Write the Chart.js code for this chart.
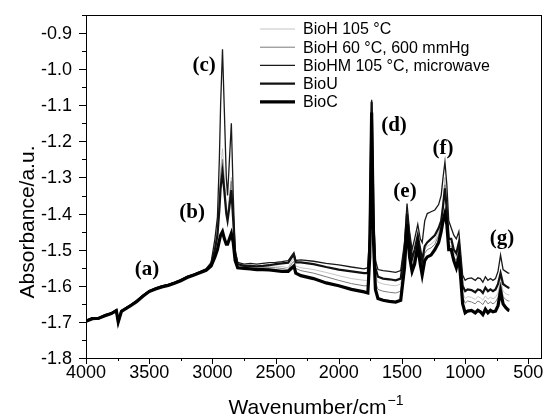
<!DOCTYPE html>
<html>
<head>
<meta charset="utf-8">
<title>FTIR spectra</title>
<script src="https://cdn.jsdelivr.net/npm/chart.js@4.4.0/dist/chart.umd.min.js"></script>
<style>
  html, body { margin: 0; padding: 0; background: #fff; }
  #wrap { width: 546px; height: 418px; }
</style>
</head>
<body>
<div id="wrap"><canvas id="ftirChart" width="546" height="418"></canvas></div>
<script>
// Spectres FTIR

const wavenumbers = [
  4000, 3950, 3900, 3850, 3800, 3760, 3745, 3720, 3650, 3600, 3550, 3500, 3450, 3400, 3350, 3300, 3250, 3200, 3150, 3100, 3050,
  3010, 2980, 2960, 2945, 2935, 2920, 2905, 2890, 2880, 2865, 2850, 2835, 2820,
  2800, 2750, 2700, 2650, 2600, 2550, 2500, 2450, 2400, 2370, 2355, 2340,
  2300, 2200, 2100, 2000, 1900, 1800,
  1770, 1755, 1740, 1725, 1710, 1690,
  1650, 1600, 1550, 1510, 1480,
  1460, 1440, 1420, 1400, 1375, 1355, 1340, 1320, 1300,
  1270, 1240, 1210, 1190, 1175, 1160, 1145, 1130,
  1110, 1090, 1070, 1050, 1035, 1020,
  1000, 980, 950, 920, 900, 880, 860, 840, 820,
  800, 780, 760, 740, 720, 700, 680, 660, 650
];

const bioH105 = [
  -1.699, -1.692, -1.690, -1.684, -1.676, -1.670, -1.699, -1.672, -1.657, -1.645, -1.630, -1.617, -1.610, -1.604, -1.600, -1.594, -1.587, -1.578, -1.572, -1.565, -1.558,
  -1.54, -1.49, -1.44, -1.35, -1.28, -1.22, -1.30, -1.38, -1.40, -1.35, -1.30, -1.40, -1.51,
  -1.545, -1.548, -1.547, -1.548, -1.547, -1.546, -1.545, -1.547, -1.550, -1.530, -1.525, -1.545,
  -1.550, -1.555, -1.563, -1.572, -1.580, -1.585,
  -1.585, -1.48, -1.10, -1.44, -1.57, -1.590,
  -1.595, -1.598, -1.600, -1.595, -1.51,
  -1.39, -1.48, -1.535, -1.51, -1.46, -1.51, -1.545, -1.50, -1.49,
  -1.485, -1.475, -1.45, -1.42, -1.36, -1.30, -1.38, -1.48,
  -1.48, -1.51, -1.52, -1.49, -1.55, -1.62,
  -1.635, -1.630, -1.632, -1.638, -1.630, -1.633, -1.640, -1.628, -1.637,
  -1.632, -1.636, -1.632, -1.620, -1.580, -1.615, -1.622, -1.625, -1.625
];

const bioH60 = [
  -1.696, -1.691, -1.692, -1.683, -1.678, -1.669, -1.702, -1.671, -1.656, -1.644, -1.629, -1.616, -1.609, -1.603, -1.599, -1.593, -1.586, -1.577, -1.571, -1.564, -1.557,
  -1.54, -1.495, -1.45, -1.37, -1.30, -1.25, -1.32, -1.39, -1.41, -1.36, -1.31, -1.41, -1.515,
  -1.548, -1.550, -1.550, -1.551, -1.550, -1.550, -1.550, -1.552, -1.555, -1.538, -1.532, -1.552,
  -1.558, -1.565, -1.575, -1.585, -1.594, -1.600,
  -1.600, -1.50, -1.11, -1.46, -1.59, -1.610,
  -1.615, -1.618, -1.620, -1.615, -1.53,
  -1.41, -1.50, -1.545, -1.52, -1.475, -1.52, -1.555, -1.51, -1.50,
  -1.495, -1.485, -1.46, -1.43, -1.38, -1.32, -1.40, -1.49,
  -1.49, -1.52, -1.53, -1.50, -1.56, -1.63,
  -1.648, -1.642, -1.645, -1.650, -1.642, -1.646, -1.652, -1.640, -1.650,
  -1.645, -1.650, -1.645, -1.632, -1.590, -1.630, -1.638, -1.642, -1.642
];

const bioHM105 = [
  -1.695, -1.688, -1.689, -1.680, -1.675, -1.666, -1.698, -1.668, -1.653, -1.641, -1.626, -1.613, -1.606, -1.600, -1.596, -1.590, -1.583, -1.574, -1.568, -1.561, -1.553,
  -1.535, -1.47, -1.41, -1.25, -1.10, -0.945, -1.12, -1.30, -1.35, -1.25, -1.15, -1.35, -1.50,
  -1.535, -1.540, -1.538, -1.540, -1.538, -1.536, -1.535, -1.533, -1.530, -1.515, -1.508, -1.530,
  -1.528, -1.532, -1.538, -1.542, -1.548, -1.553,
  -1.550, -1.45, -1.085, -1.40, -1.53, -1.555,
  -1.558, -1.560, -1.563, -1.558, -1.48,
  -1.372, -1.45, -1.50, -1.47, -1.43, -1.47, -1.48, -1.42, -1.40,
  -1.395, -1.39, -1.375, -1.35, -1.30, -1.257, -1.32, -1.42,
  -1.44, -1.46, -1.47, -1.45, -1.51, -1.57,
  -1.585, -1.580, -1.578, -1.585, -1.578, -1.580, -1.590, -1.575, -1.585,
  -1.580, -1.585, -1.580, -1.560, -1.515, -1.555, -1.560, -1.565, -1.565
];

const bioU = [
  -1.697, -1.690, -1.691, -1.682, -1.677, -1.668, -1.701, -1.670, -1.655, -1.643, -1.628, -1.615, -1.608, -1.602, -1.598, -1.592, -1.585, -1.576, -1.570, -1.563, -1.556,
  -1.54, -1.50, -1.46, -1.39, -1.33, -1.285, -1.34, -1.40, -1.42, -1.38, -1.335, -1.42, -1.51,
  -1.540, -1.545, -1.545, -1.546, -1.545, -1.543, -1.540, -1.538, -1.536, -1.520, -1.515, -1.535,
  -1.535, -1.540, -1.548, -1.555, -1.560, -1.565,
  -1.565, -1.47, -1.09, -1.42, -1.55, -1.575,
  -1.580, -1.582, -1.585, -1.580, -1.50,
  -1.40, -1.47, -1.525, -1.50, -1.46, -1.50, -1.53, -1.49, -1.48,
  -1.47, -1.46, -1.44, -1.42, -1.38, -1.33, -1.39, -1.47,
  -1.47, -1.50, -1.51, -1.48, -1.54, -1.60,
  -1.615, -1.610, -1.612, -1.618, -1.610, -1.612, -1.620, -1.605, -1.615,
  -1.610, -1.615, -1.610, -1.595, -1.565, -1.595, -1.600, -1.605, -1.606
];

const bioC = [
  -1.698, -1.691, -1.690, -1.683, -1.677, -1.669, -1.700, -1.671, -1.656, -1.644, -1.629, -1.616, -1.609, -1.603, -1.599, -1.593, -1.586, -1.577, -1.571, -1.564, -1.557,
  -1.545, -1.52, -1.50, -1.475, -1.46, -1.45, -1.47, -1.485, -1.485, -1.47, -1.455, -1.48, -1.53,
  -1.550, -1.552, -1.553, -1.555, -1.555, -1.556, -1.558, -1.560, -1.560, -1.550, -1.545, -1.565,
  -1.572, -1.580, -1.592, -1.600, -1.610, -1.617,
  -1.620, -1.52, -1.12, -1.48, -1.61, -1.635,
  -1.640, -1.643, -1.645, -1.640, -1.55,
  -1.43, -1.52, -1.56, -1.54, -1.49, -1.54, -1.57, -1.53, -1.52,
  -1.515, -1.50, -1.48, -1.45, -1.42, -1.40, -1.43, -1.50,
  -1.50, -1.53, -1.55, -1.52, -1.58, -1.65,
  -1.675, -1.670, -1.668, -1.675, -1.668, -1.672, -1.680, -1.665, -1.675,
  -1.668, -1.672, -1.670, -1.655, -1.615, -1.650, -1.660, -1.667, -1.668
];

const seriesLabels = ['BioH 105 °C', 'BioH 60 °C, 600 mmHg', 'BioHM 105 °C, microwave', 'BioU', 'BioC'];
const seriesValues = [bioH105, bioH60, bioHM105, bioU, bioC];

const xTicks = [4000, 3500, 3000, 2500, 2000, 1500, 1000, 500];
const yTicks = [-1.8, -1.7, -1.6, -1.5, -1.4, -1.3, -1.2, -1.1, -1.0, -0.9];

// etiquettes des bandes (a)-(g), en coordonnees des axes
const bandLabels = ['(a)', '(b)', '(c)', '(d)', '(e)', '(f)', '(g)'];
const bandWavenumbers = [3517, 3161, 3066, 1563, 1476, 1176, 709];
const bandAbsorbance = [-1.556, -1.398, -0.991, -1.157, -1.340, -1.221, -1.468];

// styles des courbes
const lineColors = ['#bdbdbd', '#7a7a7a', '#1a1a1a', '#111111', '#000000'];
const lineWidths = [0.9, 1, 1.3, 2.2, 3.2];
const SANS = '"Liberation Sans", Arial, sans-serif';

const decorPlugin = {
    id: 'decor',
    afterDraw(chart) {
        const { ctx, chartArea: a, scales: { x, y } } = chart;
        ctx.save();
        ctx.strokeStyle = '#000';
        ctx.lineWidth = 1;
        ctx.strokeRect(Math.round(a.left) + 0.5, Math.round(a.top) + 0.5,
            Math.round(a.right - a.left), Math.round(a.bottom - a.top));

        // graduations x (majeures + mineures)
        ctx.beginPath();
        xTicks.forEach((v) => {
            const px = Math.round(x.getPixelForValue(v)) + 0.5;
            ctx.moveTo(px, a.bottom);
            ctx.lineTo(px, a.bottom + 6);
            const mv = v - 250;
            if (mv >= x.min) {
                const mx = Math.round(x.getPixelForValue(mv)) + 0.5;
                ctx.moveTo(mx, a.bottom);
                ctx.lineTo(mx, a.bottom + 3);
            }
        });
        // graduations y
        yTicks.forEach((v) => {
            const py = Math.round(y.getPixelForValue(v)) + 0.5;
            ctx.moveTo(a.left, py);
            ctx.lineTo(a.left - 7, py);
            const mv = v + 0.05;
            if (mv <= y.max) {
                const my = Math.round(y.getPixelForValue(mv)) + 0.5;
                ctx.moveTo(a.left, my);
                ctx.lineTo(a.left - 4, my);
            }
        });
        ctx.stroke();

        // libelles des graduations
        ctx.fillStyle = '#000';
        ctx.font = '18px ' + SANS;
        ctx.textAlign = 'center';
        ctx.textBaseline = 'middle';
        xTicks.forEach((v) => {
            ctx.fillText(String(v), x.getPixelForValue(v), a.bottom + 15);
        });
        ctx.textAlign = 'right';
        yTicks.forEach((v) => {
            ctx.fillText(v.toFixed(1), a.left - 14, y.getPixelForValue(v) + 1);
        });

        // titres des axes
        ctx.font = '21px ' + SANS;
        ctx.textBaseline = 'alphabetic';
        const main = 'Wavenumber/cm';
        const sup = '\u22121';
        const w1 = ctx.measureText(main).width;
        ctx.font = '14px ' + SANS;
        const w2 = ctx.measureText(sup).width;
        const cx = (a.left + a.right) / 2 + 2;
        const startX = cx - (w1 + w2) / 2;
        ctx.font = '21px ' + SANS;
        ctx.textAlign = 'left';
        ctx.fillText(main, startX, 414);
        ctx.font = '14px ' + SANS;
        ctx.fillText(sup, startX + w1 + 1, 405);

        ctx.save();
        ctx.translate(34, 222);
        ctx.rotate(-Math.PI / 2);
        ctx.font = '21px ' + SANS;
        ctx.textAlign = 'center';
        ctx.fillText('Absorbance/a.u.', 0, 0);
        ctx.restore();

        // legende
        ctx.font = '16px ' + SANS;
        ctx.textAlign = 'left';
        ctx.textBaseline = 'middle';
        chart.data.datasets.forEach((ds, i) => {
            const ly = 29 + i * 18.2;
            ctx.beginPath();
            ctx.strokeStyle = ds.borderColor;
            ctx.lineWidth = ds.borderWidth;
            ctx.moveTo(260, ly);
            ctx.lineTo(295, ly);
            ctx.stroke();
            ctx.fillText(ds.label, 303, ly + 1);
        });

        // etiquettes des bandes
        ctx.font = 'bold 21px "Liberation Serif", "Times New Roman", serif';
        ctx.textAlign = 'center';
        ctx.textBaseline = 'middle';
        bandLabels.forEach((t, i) => {
            ctx.fillText(t, x.getPixelForValue(bandWavenumbers[i]), y.getPixelForValue(bandAbsorbance[i]));
        });
        ctx.restore();
    }
};

const datasets = seriesLabels.map((label, i) => ({
    label: label,
    data: wavenumbers.map((w, k) => ({ x: w, y: seriesValues[i][k] })),
    borderColor: lineColors[i],
    borderWidth: lineWidths[i],
    pointRadius: 0,
    tension: 0,
    fill: false,
    order: seriesLabels.length - i
}));

new Chart(document.getElementById('ftirChart'), {
    type: 'line',
    data: { datasets: datasets },
    options: {
        responsive: false,
        animation: false,
        devicePixelRatio: 1,
        // zone de trace fixe : 86..541 x 15..358
        layout: { padding: { top: 15, right: 5, left: 86, bottom: 60 } },
        plugins: {
            legend: { display: false },
            tooltip: { enabled: false }
        },
        scales: {
            x: {
                type: 'linear',
                reverse: true,
                min: 400,
                max: 4000,
                display: false
            },
            y: {
                type: 'linear',
                min: -1.8,
                max: -0.85,
                display: false
            }
        }
    },
    plugins: [decorPlugin]
});
</script>
</body>
</html>
